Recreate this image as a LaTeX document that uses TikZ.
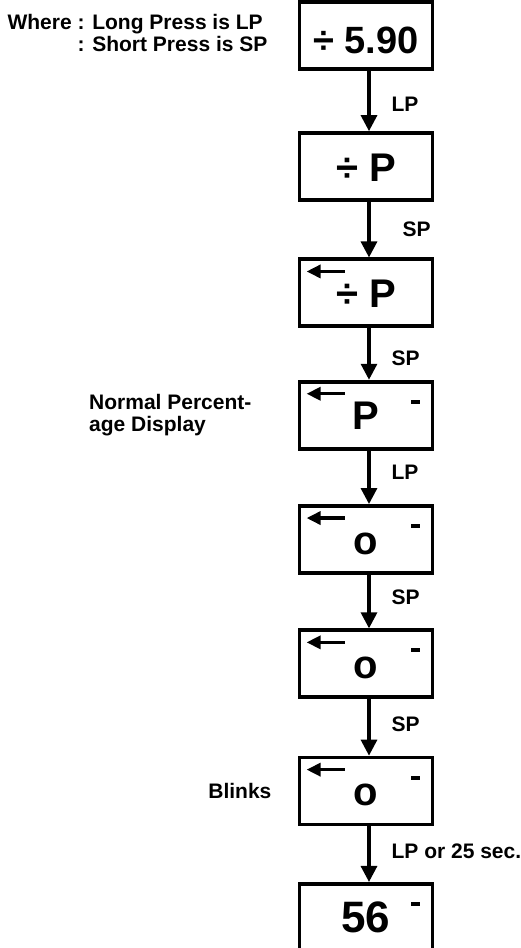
\documentclass[tikz,border=0pt]{standalone}
\usepackage{fontspec}
\setmainfont{Liberation Sans}
\usetikzlibrary{positioning,arrows.meta}

\begin{document}
\begin{tikzpicture}
[x=1pt, y=1pt,
display/.style = {shape=rectangle, draw, line width=3.8pt,
	minimum width=133pt, minimum height=67pt, inner sep=0pt,
	text height=29.5pt, text depth=0pt,
	font=\fontsize{40}{40}\selectfont\bfseries},
note/.style = {inner sep=0pt, font=\fontsize{21}{22}\selectfont\bfseries},
lbl/.style = {note, right=21pt},
flow/.style = {line width=3.2pt, -{Triangle[width=16pt,length=16pt]}},
cursor/.style = {line width=3.4pt, -{Triangle[width=13pt,length=14pt]}},
segdash/.style = {line width=4pt}]

  \useasboundingbox (0,0) rectangle (520,-948);

  % display states
  \node[display, text height=35.5pt, font=\fontsize{38}{38}\selectfont\bfseries] (d1) at (366,-35.25) {÷ 5.90};
  \node[display, below=60.5pt of d1] (d2) {÷ P};
  \node[display, below=55.5pt of d2] (d3) {÷ P};
  \node[display, below=51.5pt of d3] (d4) {P};
  \node[display, below=53.5pt of d4] (d5) {o};
  \node[display, below=53.5pt of d5] (d6) {o};
  \node[display, below=56.5pt of d6] (d7) {o};
  \node[display, below=55.5pt of d7, font=\fontsize{44}{44}\selectfont\bfseries] (d8) {56};

  % side notes
  \node[note, left=30pt of d1, yshift=-1pt] (where) {\begin{tabular}{@{}r@{ }l@{}}Where & : Long Press is LP\\ & : Short Press is SP\end{tabular}};
  \node[note, left=46pt of d4, align=left] (normal) {Normal Percent-\\age Display};
  \node[note, left=26pt of d7] (blinks) {Blinks};

  % key presses
  \draw[flow] ([xshift=3pt]d1.south) -- node[lbl, pos=.55] {LP} ([xshift=3pt]d2.north);
  \draw[flow] ([xshift=3pt]d2.south) -- node[lbl, pos=.5, right=32pt] {SP} ([xshift=3pt]d3.north);
  \draw[flow] ([xshift=3pt]d3.south) -- node[lbl, pos=.59] {SP} ([xshift=3pt]d4.north);
  \draw[flow] ([xshift=3pt]d4.south) -- node[lbl, pos=.41] {LP} ([xshift=3pt]d5.north);
  \draw[flow] ([xshift=3pt]d5.south) -- node[lbl, pos=.42] {SP} ([xshift=3pt]d6.north);
  \draw[flow] ([xshift=3pt]d6.south) -- node[lbl, pos=.45] {SP} ([xshift=3pt]d7.north);
  \draw[flow] ([xshift=3pt]d7.south) -- node[lbl, pos=.45] {LP or 25 sec.} ([xshift=3pt]d8.north);

  % cursor arrows
  \draw[cursor] ([shift={(47pt,-14pt)}]d3.north west) -- ([shift={(9pt,-14pt)}]d3.north west);
  \draw[cursor] ([shift={(47pt,-14pt)}]d4.north west) -- ([shift={(9pt,-14pt)}]d4.north west);
  \draw[cursor] ([shift={(47pt,-14pt)}]d5.north west) -- ([shift={(9pt,-14pt)}]d5.north west);
  \draw[cursor] ([shift={(47pt,-14pt)}]d6.north west) -- ([shift={(9pt,-14pt)}]d6.north west);
  \draw[cursor] ([shift={(47pt,-14pt)}]d7.north west) -- ([shift={(9pt,-14pt)}]d7.north west);

  % minus segments
  \draw[segdash] ([shift={(-23pt,-22pt)}]d4.north east) -- ([shift={(-14pt,-22pt)}]d4.north east);
  \draw[segdash] ([shift={(-23pt,-22pt)}]d5.north east) -- ([shift={(-14pt,-22pt)}]d5.north east);
  \draw[segdash] ([shift={(-23pt,-22pt)}]d6.north east) -- ([shift={(-14pt,-22pt)}]d6.north east);
  \draw[segdash] ([shift={(-23pt,-22pt)}]d7.north east) -- ([shift={(-14pt,-22pt)}]d7.north east);
  \draw[segdash] ([shift={(-23pt,-22pt)}]d8.north east) -- ([shift={(-14pt,-22pt)}]d8.north east);
\end{tikzpicture}
\end{document}
